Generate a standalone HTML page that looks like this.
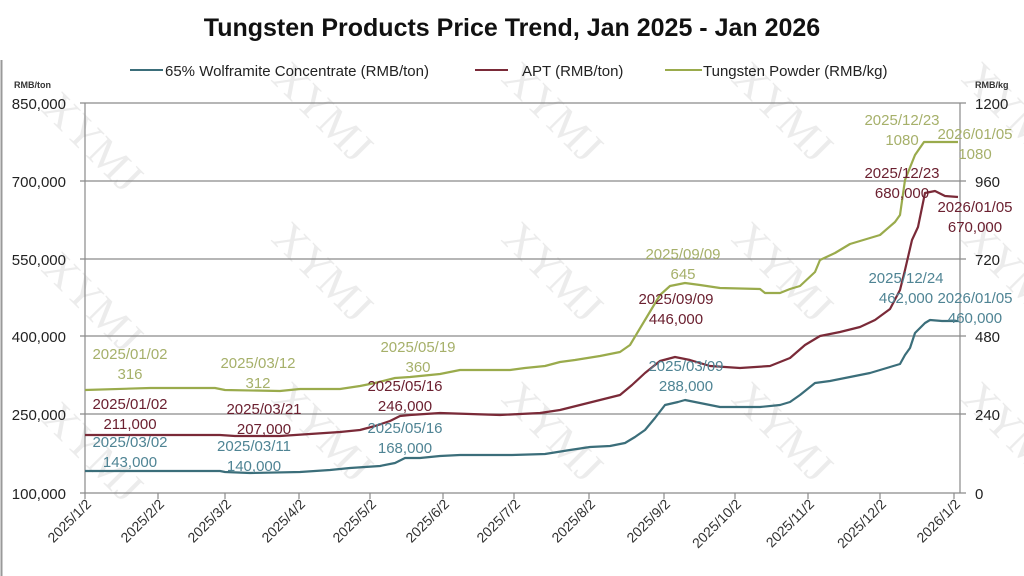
<!DOCTYPE html>
<html><head><meta charset="utf-8"><style>
html,body{margin:0;padding:0;background:#fff;width:1024px;height:576px;overflow:hidden;}
svg{display:block;font-family:"Liberation Sans",sans-serif;}
</style></head><body>
<svg width="1024" height="576" viewBox="0 0 1024 576" xmlns="http://www.w3.org/2000/svg">
<rect width="1024" height="576" fill="#fff"/>
<line x1="1.5" y1="60" x2="1.5" y2="576" stroke="#999" stroke-width="2"/>
<g fill="#ececec" font-size="44" font-family="Liberation Serif,serif">
<text transform="translate(40,110) rotate(45)">XYMJ</text>
<text transform="translate(270,80) rotate(45)">XYMJ</text>
<text transform="translate(500,80) rotate(45)">XYMJ</text>
<text transform="translate(730,80) rotate(45)">XYMJ</text>
<text transform="translate(960,80) rotate(45)">XYMJ</text>
<text transform="translate(40,270) rotate(45)">XYMJ</text>
<text transform="translate(270,240) rotate(45)">XYMJ</text>
<text transform="translate(500,240) rotate(45)">XYMJ</text>
<text transform="translate(730,240) rotate(45)">XYMJ</text>
<text transform="translate(960,240) rotate(45)">XYMJ</text>
<text transform="translate(40,420) rotate(45)">XYMJ</text>
<text transform="translate(270,400) rotate(45)">XYMJ</text>
<text transform="translate(500,400) rotate(45)">XYMJ</text>
<text transform="translate(730,400) rotate(45)">XYMJ</text>
<text transform="translate(960,400) rotate(45)">XYMJ</text>
</g>
<text x="512" y="36" text-anchor="middle" font-size="25" font-weight="bold" fill="#111">Tungsten Products Price Trend, Jan 2025 - Jan 2026</text>
<g font-size="15" fill="#222">
<line x1="130" y1="70" x2="163" y2="70" stroke="#3b6e7a" stroke-width="2"/><text x="165" y="76">65% Wolframite Concentrate (RMB/ton)</text>
<line x1="475" y1="70" x2="508" y2="70" stroke="#7a2a38" stroke-width="2"/><text x="522" y="76">APT (RMB/ton)</text>
<line x1="665" y1="70" x2="702" y2="70" stroke="#9aab4c" stroke-width="2"/><text x="703" y="76">Tungsten Powder (RMB/kg)</text>
</g>
<text x="14" y="88" font-size="9" fill="#333" font-weight="bold">RMB/ton</text>
<text x="975" y="88" font-size="9" fill="#333" font-weight="bold">RMB/kg</text>
<g stroke="#8a8a8a" stroke-width="1.2">
<line x1="80" y1="103" x2="966" y2="103"/><line x1="80" y1="181" x2="966" y2="181"/>
<line x1="80" y1="259" x2="966" y2="259"/><line x1="80" y1="336" x2="966" y2="336"/>
<line x1="80" y1="414" x2="966" y2="414"/><line x1="80" y1="493" x2="966" y2="493"/>
<line x1="85" y1="103" x2="85" y2="493"/><line x1="960" y1="103" x2="960" y2="493"/>
<line x1="85" y1="493" x2="85" y2="499"/><line x1="158" y1="493" x2="158" y2="499"/><line x1="225" y1="493" x2="225" y2="499"/><line x1="299" y1="493" x2="299" y2="499"/><line x1="370" y1="493" x2="370" y2="499"/><line x1="443" y1="493" x2="443" y2="499"/><line x1="514" y1="493" x2="514" y2="499"/><line x1="589" y1="493" x2="589" y2="499"/><line x1="664" y1="493" x2="664" y2="499"/><line x1="735" y1="493" x2="735" y2="499"/><line x1="808" y1="493" x2="808" y2="499"/><line x1="880" y1="493" x2="880" y2="499"/><line x1="954" y1="493" x2="954" y2="499"/>
</g>
<g font-size="15" fill="#222" text-anchor="end">
<text x="66" y="109">850,000</text><text x="66" y="187">700,000</text><text x="66" y="265">550,000</text><text x="66" y="342">400,000</text><text x="66" y="420">250,000</text><text x="66" y="499">100,000</text>
</g>
<g font-size="15" fill="#222">
<text x="975" y="109">1200</text><text x="975" y="187">960</text><text x="975" y="265">720</text><text x="975" y="342">480</text><text x="975" y="420">240</text><text x="975" y="499">0</text>
</g>
<g font-size="14" fill="#333" text-anchor="end">
<text transform="translate(92,505) rotate(-45)">2025/1/2</text>
<text transform="translate(165,505) rotate(-45)">2025/2/2</text>
<text transform="translate(232,505) rotate(-45)">2025/3/2</text>
<text transform="translate(306,505) rotate(-45)">2025/4/2</text>
<text transform="translate(377,505) rotate(-45)">2025/5/2</text>
<text transform="translate(450,505) rotate(-45)">2025/6/2</text>
<text transform="translate(521,505) rotate(-45)">2025/7/2</text>
<text transform="translate(596,505) rotate(-45)">2025/8/2</text>
<text transform="translate(671,505) rotate(-45)">2025/9/2</text>
<text transform="translate(742,505) rotate(-45)">2025/10/2</text>
<text transform="translate(815,505) rotate(-45)">2025/11/2</text>
<text transform="translate(887,505) rotate(-45)">2025/12/2</text>
<text transform="translate(961,505) rotate(-45)">2026/1/2</text>
</g>
<g fill="none" stroke-width="2.2" stroke-linejoin="round">
<polyline stroke="#3b6e7a" points="85,471 150,471 220,471 225,472 250,473 300,472 330,470 350,468 380,466 395,463 405,458 420,458 440,456 460,455 512,455 545,454 570,450 590,447 610,446 625,443 635,437 645,430 655,418 665,405 678,402 685,400 695,402 720,407 760,407 780,405 790,402 800,395 815,383 830,381 850,377 870,373 890,367 900,364 905,355 910,348 915,333 925,323 930,320 942,321 958,321"/>
<polyline stroke="#7a2a38" points="85,435 220,435 235,436 280,436 310,434 340,432 360,430 375,426 390,421 400,416 410,415 440,413 500,415 520,414 540,413 560,410 580,405 600,400 620,395 632,385 645,373 660,361 675,357 690,360 710,366 740,368 770,366 790,358 805,345 820,336 840,332 860,327 875,320 890,309 900,290 905,270 912,240 918,227 925,193 935,191 945,196 958,197"/>
<polyline stroke="#9aab4c" points="85,390 150,388 215,388 225,390 280,391 300,389 340,389 360,386 375,383 395,378 410,377 440,374 460,370 510,370 525,368 545,366 560,362 575,360 600,356 620,352 630,345 645,320 660,295 670,286 685,283 700,285 720,288 760,289 765,293 780,293 790,289 800,286 815,272 820,260 835,253 850,244 870,238 880,235 895,222 900,215 905,180 915,155 924,142 935,142 958,142"/>
</g>
<g font-size="15" text-anchor="middle">
<g fill="#a6b06a"><text x="130" y="359">2025/01/02</text><text x="130" y="379">316</text>
<text x="258" y="368">2025/03/12</text><text x="258" y="388">312</text>
<text x="418" y="352">2025/05/19</text><text x="418" y="372">360</text>
<text x="683" y="259">2025/09/09</text><text x="683" y="279">645</text>
<text x="902" y="125">2025/12/23</text><text x="902" y="145">1080</text>
<text x="975" y="139">2026/01/05</text><text x="975" y="159">1080</text></g>
<g fill="#6b2030"><text x="130" y="409">2025/01/02</text><text x="130" y="429">211,000</text>
<text x="264" y="414">2025/03/21</text><text x="264" y="434">207,000</text>
<text x="405" y="391">2025/05/16</text><text x="405" y="411">246,000</text>
<text x="676" y="304">2025/09/09</text><text x="676" y="324">446,000</text>
<text x="902" y="178">2025/12/23</text><text x="902" y="198">680,000</text>
<text x="975" y="212">2026/01/05</text><text x="975" y="232">670,000</text></g>
<g fill="#4f8494"><text x="130" y="447">2025/03/02</text><text x="130" y="467">143,000</text>
<text x="254" y="451">2025/03/11</text><text x="254" y="471">140,000</text>
<text x="405" y="433">2025/05/16</text><text x="405" y="453">168,000</text>
<text x="686" y="371">2025/03/09</text><text x="686" y="391">288,000</text>
<text x="906" y="283">2025/12/24</text><text x="906" y="303">462,000</text>
<text x="975" y="303">2026/01/05</text><text x="975" y="323">460,000</text></g>
</g>
</svg>
</body></html>
